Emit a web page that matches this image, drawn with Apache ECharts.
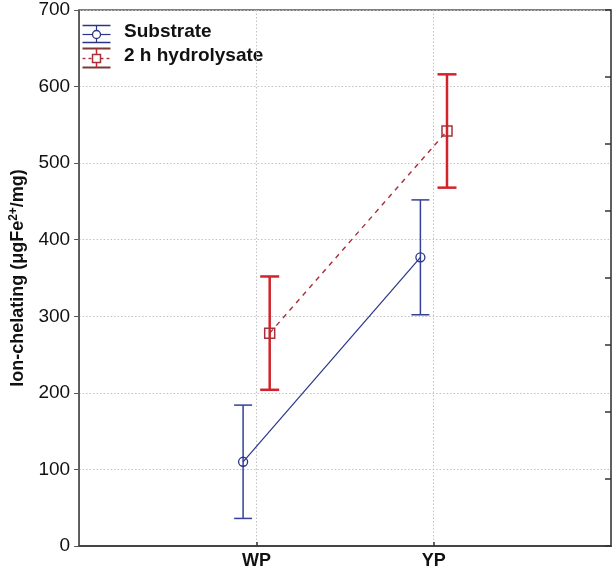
<!DOCTYPE html>
<html>
<head>
<meta charset="utf-8">
<script src="https://cdn.jsdelivr.net/npm/echarts@6/dist/echarts.min.js"></script>
<style>
html,body{margin:0;padding:0;background:#fff;}
#chart{width:613px;height:572px;}
</style>
</head>
<body>
<div id="chart"></div>
<script>
// ---- data ----
const categories = ['WP', 'YP'];
const categoryPos = [1, 2];
const seriesNames = ['Substrate', '2 h hydrolysate'];
const substrateMean = [110, 377];
const substrateErr = [74, 75];
const hydrolysateMean = [278, 542];
const hydrolysateErr = [74, 74];
const yTickValues = [0, 100, 200, 300, 400, 500, 600, 700];

// ---- style ----
const OFFSET = 0.075;        // horizontal dodge of the two groups (axis units)
const NAVY = '#2a3489';
const NAVY_BAR = '#34409a';
const RED = '#d2232a';
const RED_DARK = '#a8303a';
const FONT = '"Liberation Sans", Arial, Helvetica, sans-serif';

function pts(means, off) {
  return means.map((m, i) => [categoryPos[i] + off, m]);
}
function bars(means, errs, off) {
  return means.map((m, i) => [categoryPos[i] + off, m - errs[i], m + errs[i]]);
}
function errRender(color, width, hw) {
  return function (params, api) {
    const x = api.value(0), lo = api.value(1), hi = api.value(2);
    const t = api.coord([x, hi]);
    const b = api.coord([x, lo]);
    const st = { stroke: color, lineWidth: width };
    return {
      type: 'group',
      children: [
        { type: 'line', shape: { x1: t[0], y1: t[1], x2: b[0], y2: b[1] }, style: st },
        { type: 'line', shape: { x1: t[0] - hw, y1: t[1], x2: t[0] + hw, y2: t[1] }, style: st },
        { type: 'line', shape: { x1: b[0] - hw, y1: b[1], x2: b[0] + hw, y2: b[1] }, style: st }
      ]
    };
  };
}

const chart = echarts.init(document.getElementById('chart'), null, { renderer: 'canvas' });

const gridLine = { show: true, lineStyle: { color: '#c2c2c2', type: [1.5, 2], width: 1 } };

const option = {
  backgroundColor: '#fff',
  animation: false,
  textStyle: { fontFamily: FONT },
  grid: { left: 75, top: 10, right: 2, bottom: 26, show: true, borderColor: '#555', borderWidth: 1.5, backgroundColor: 'transparent' },
  xAxis: {
    type: 'value', min: 0, max: 3, interval: 1,
    axisLine: { show: true, lineStyle: { color: '#444', width: 2 } },
    axisTick: { show: true, inside: true, length: 4, lineStyle: { color: '#333', width: 1.5 }, customValues: categoryPos },
    axisLabel: {
      customValues: categoryPos,
      formatter: v => { const i = categoryPos.indexOf(v); return i >= 0 ? categories[i] : ''; },
      color: '#111', fontSize: 18, fontWeight: 'bold', fontFamily: FONT, margin: 6
    },
    splitLine: gridLine
  },
  yAxis: [{
    type: 'value', min: 0, max: 700, interval: 100,
    name: '{a|Ion-chelating (μgFe}{s|2+}{a|/mg)}',
    nameLocation: 'middle', nameGap: 49, nameRotate: 90,
    nameTextStyle: {
      rich: {
        a: { fontSize: 18, fontWeight: 'bold', color: '#111', fontFamily: FONT },
        s: { fontSize: 12, fontWeight: 'bold', color: '#111', fontFamily: FONT, padding: [0, 0, 9, 0] }
      }
    },
    axisLine: { show: true, lineStyle: { color: '#555', width: 1.5 } },
    axisTick: { show: true, inside: false, length: 5, lineStyle: { color: '#555', width: 1 } },
    axisLabel: { color: '#111', fontSize: 19, fontFamily: FONT, margin: 9,
      customValues: yTickValues },
    splitLine: gridLine
  }, {
    type: 'value', min: 0, max: 8, interval: 1, position: 'right',
    axisLine: { show: true, lineStyle: { color: '#555', width: 1.5 } },
    axisTick: { show: true, inside: true, length: 6, lineStyle: { color: '#333', width: 1.5 } },
    axisLabel: { show: false },
    splitLine: { show: false }
  }],
  series: [
    {
      name: seriesNames[0] + ' bars', type: 'custom', z: 2,
      renderItem: errRender(NAVY_BAR, 1.5, 9),
      data: bars(substrateMean, substrateErr, -OFFSET)
    },
    {
      name: seriesNames[1] + ' bars', type: 'custom', z: 2,
      renderItem: errRender(RED, 2.5, 9.5),
      data: bars(hydrolysateMean, hydrolysateErr, OFFSET)
    },
    {
      name: seriesNames[0], type: 'line', z: 3,
      data: pts(substrateMean, -OFFSET),
      symbol: 'circle', symbolSize: 9,
      itemStyle: { color: 'rgba(255,255,255,0)', borderColor: NAVY, borderWidth: 1.3 },
      lineStyle: { color: NAVY, width: 1.2 }
    },
    {
      name: seriesNames[1], type: 'line', z: 3,
      data: pts(hydrolysateMean, OFFSET),
      symbol: 'rect', symbolSize: 10,
      itemStyle: { color: 'rgba(255,255,255,0)', borderColor: RED_DARK, borderWidth: 1.5 },
      lineStyle: { color: RED_DARK, width: 1.4, type: [5, 5] }
    }
  ],
  graphic: [
    { type: 'group', left: 80, top: 23, children: [
      { type: 'line', shape: { x1: 0, y1: 0, x2: 28, y2: 0 }, style: { stroke: NAVY, lineWidth: 1.5 } },
      { type: 'line', shape: { x1: 0, y1: 17, x2: 28, y2: 17 }, style: { stroke: NAVY, lineWidth: 1.5 } },
      { type: 'line', shape: { x1: 14, y1: 0, x2: 14, y2: 17 }, style: { stroke: NAVY, lineWidth: 1.2 } },
      { type: 'line', shape: { x1: 0, y1: 9, x2: 28, y2: 9 }, style: { stroke: NAVY, lineWidth: 1.2 } },
      { type: 'circle', shape: { cx: 14, cy: 9, r: 4 }, style: { fill: '#fff', stroke: NAVY, lineWidth: 1.3 } }
    ]},
    { type: 'group', left: 80, top: 46, children: [
      { type: 'line', shape: { x1: 0, y1: 0, x2: 28, y2: 0 }, style: { stroke: '#7a3a35', lineWidth: 2 } },
      { type: 'line', shape: { x1: 0, y1: 19, x2: 28, y2: 19 }, style: { stroke: '#7a3a35', lineWidth: 2 } },
      { type: 'line', shape: { x1: 14, y1: 0, x2: 14, y2: 19 }, style: { stroke: RED, lineWidth: 1.5 } },
      { type: 'line', shape: { x1: 0, y1: 10, x2: 28, y2: 10 }, style: { stroke: RED_DARK, lineWidth: 1.4, lineDash: [3, 3] } },
      { type: 'rect', shape: { x: 10, y: 6, width: 8, height: 8 }, style: { fill: '#fff', stroke: RED_DARK, lineWidth: 1.5 } }
    ]},
    { type: 'text', left: 124, top: 22, style: { text: seriesNames[0], font: 'bold 19px ' + FONT, fill: '#111' } },
    { type: 'text', left: 124, top: 46, style: { text: seriesNames[1], font: 'bold 19px ' + FONT, fill: '#111' } }
  ]
};
chart.setOption(option);
</script>
</body>
</html>
